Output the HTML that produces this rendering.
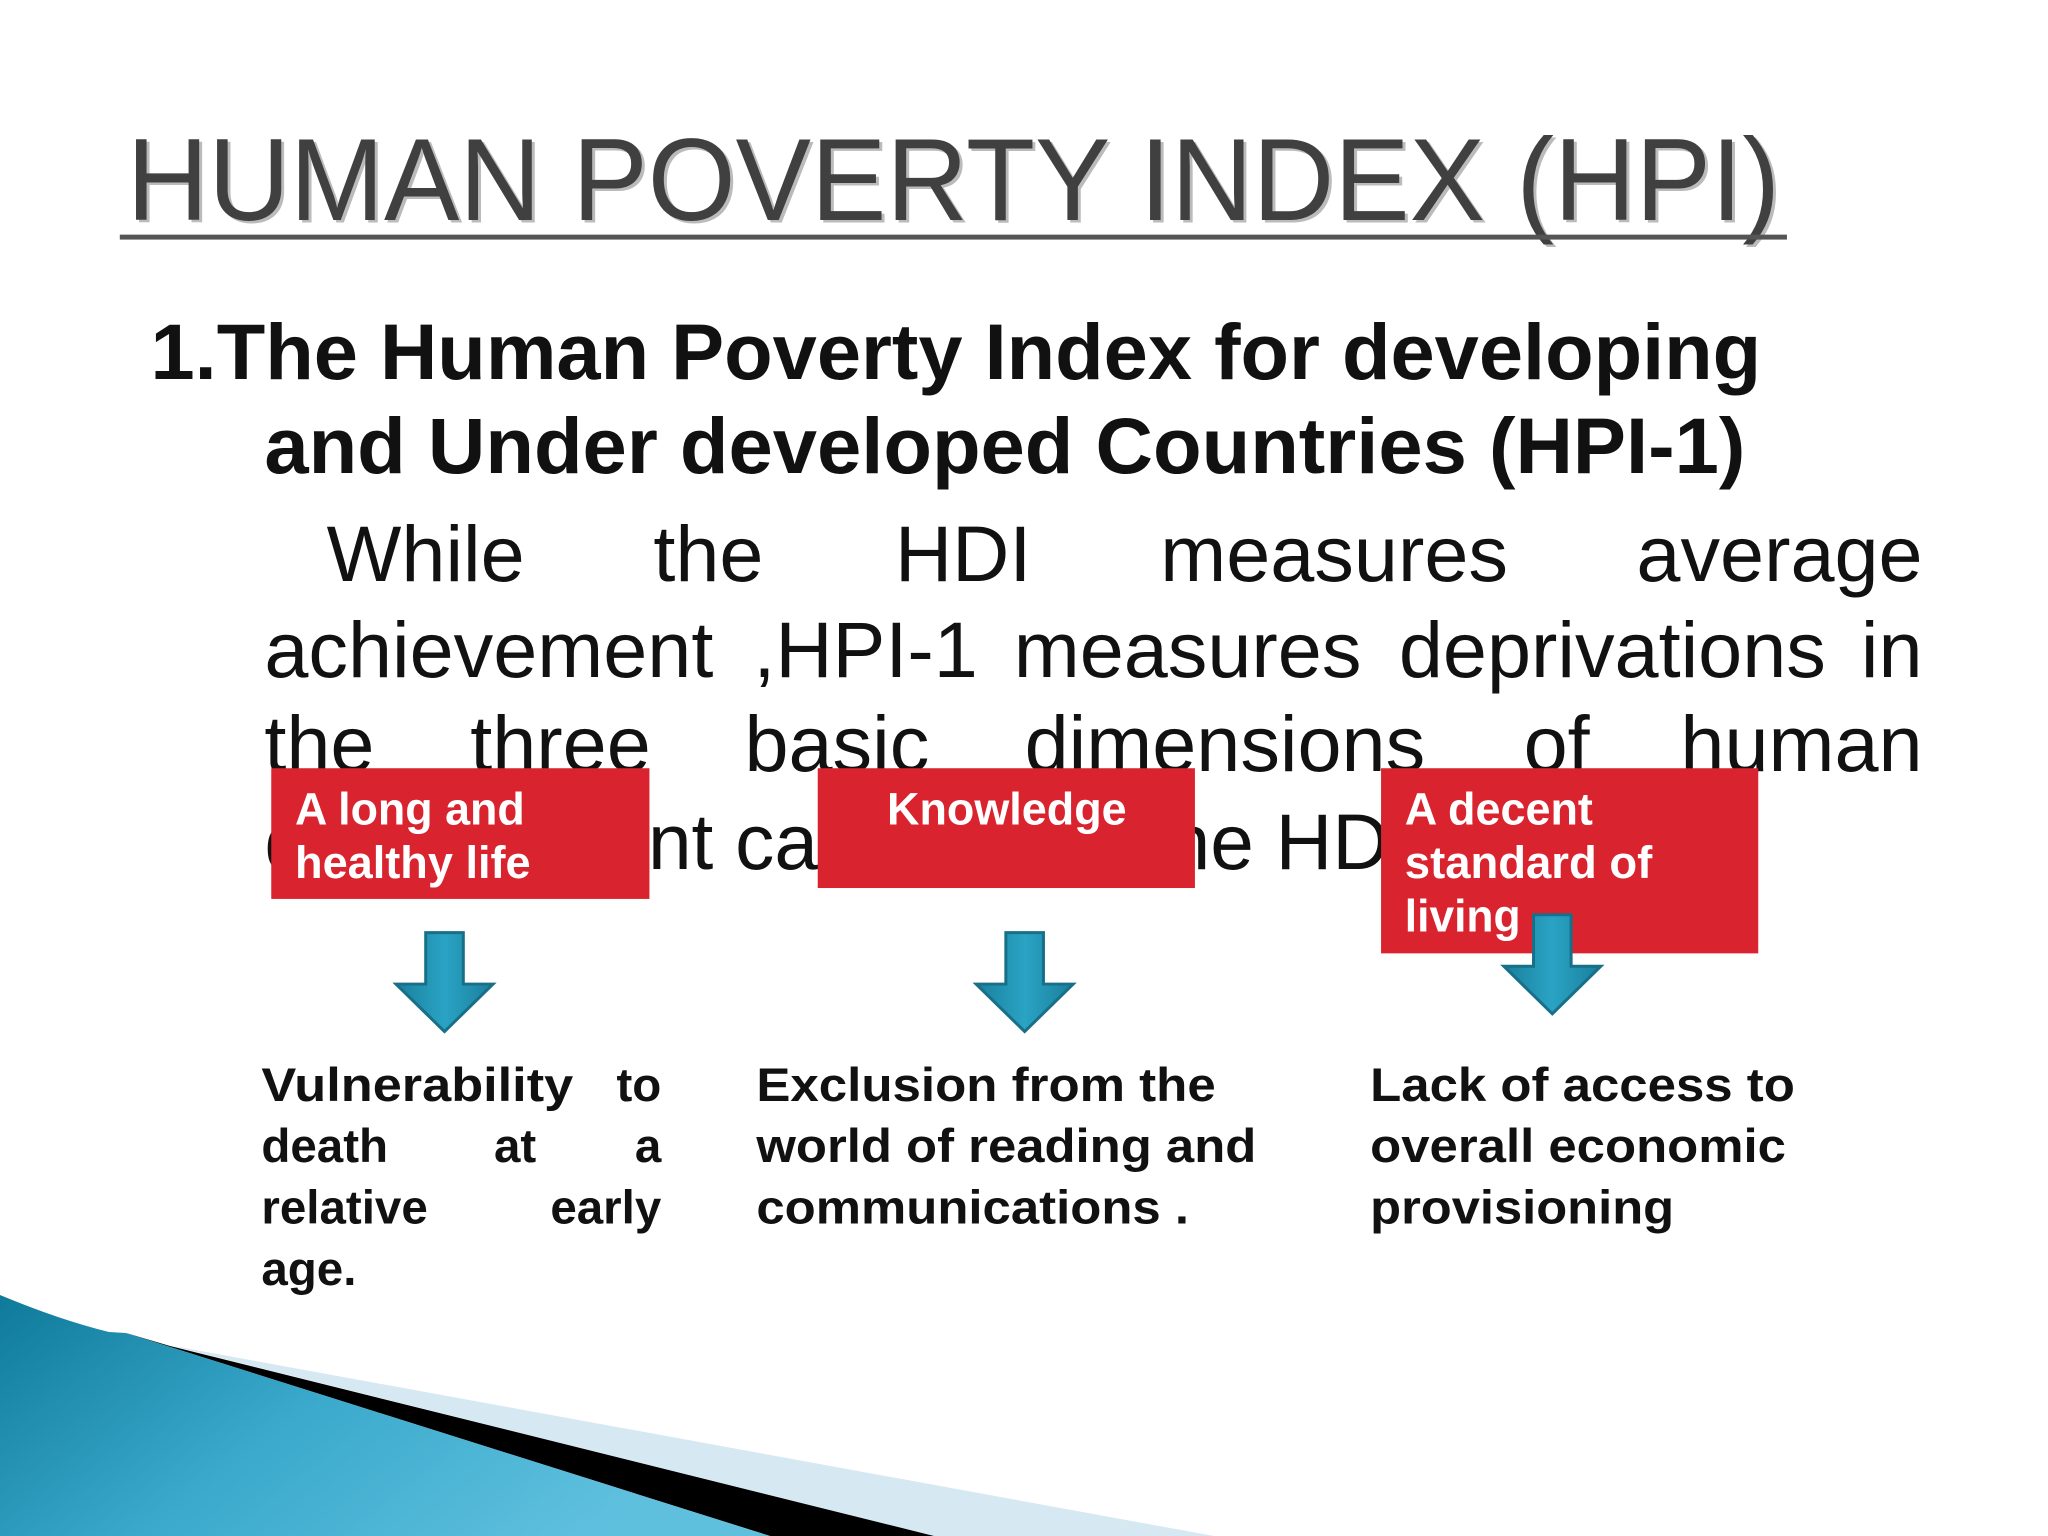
<!DOCTYPE html>
<html><head><meta charset="utf-8"><style>
html,body{margin:0;padding:0;background:#fff;}
svg{display:block;}
text{font-family:"Liberation Sans",Arial,sans-serif;}
</style></head><body>
<svg width="2048" height="1536" viewBox="0 0 2048 1536" xmlns="http://www.w3.org/2000/svg">
<defs>
<linearGradient id="teal" x1="0" y1="0" x2="1" y2="0.4">
<stop offset="0" stop-color="#0f7a9a"/><stop offset="0.5" stop-color="#3aa9cc"/><stop offset="1" stop-color="#5fc0de"/>
</linearGradient>
<linearGradient id="arrowg" x1="0" y1="0" x2="1" y2="0">
<stop offset="0" stop-color="#1a7f9c"/><stop offset="0.5" stop-color="#2aa3c4"/><stop offset="1" stop-color="#1a7f9c"/>
</linearGradient>
</defs>
<rect width="2048" height="1536" fill="#fff"/>

<g>
<polygon points="168,1345 1214,1536 934,1536" fill="#d6e8f2"/>
<polygon points="126,1333 170,1346 934,1536 770,1536" fill="#000"/>
<path d="M0,1295 Q60,1320 109,1332 L126,1333 L770,1536 L0,1536 Z" fill="url(#teal)"/>
</g>

<g transform="scale(0.99)">
<g>
<text x="131" y="225" font-size="118" fill="#bbb" textLength="1670" lengthAdjust="spacingAndGlyphs">HUMAN POVERTY INDEX (HPI)</text>
<text x="128" y="222" font-size="118" fill="#404040" textLength="1670" lengthAdjust="spacingAndGlyphs">HUMAN POVERTY INDEX (HPI)</text>
<rect x="121" y="237" width="1684" height="5" fill="#555"/>
</g>

<g font-weight="bold" font-size="80" fill="#111">
<text x="152" y="383" textLength="1627" lengthAdjust="spacingAndGlyphs">1.The Human Poverty Index for developing</text>
<text x="267" y="478" textLength="1496" lengthAdjust="spacingAndGlyphs">and Under developed Countries (HPI-1)</text>
</g>

<g font-size="80" fill="#111">
<text y="587"><tspan x="330">While</tspan><tspan x="660">the</tspan><tspan x="904">HDI</tspan><tspan x="1172">measures</tspan></text>
<text x="1942" y="587" text-anchor="end">average</text>
<text y="684"><tspan x="267">achievement</tspan><tspan x="761">,HPI-1</tspan><tspan x="1024">measures</tspan><tspan x="1413">deprivations</tspan></text>
<text x="1942" y="684" text-anchor="end">in</text>
<text y="779"><tspan x="267">the</tspan><tspan x="475">three</tspan><tspan x="752">basic</tspan><tspan x="1035">dimensions</tspan><tspan x="1539">of</tspan></text>
<text x="1942" y="779" text-anchor="end">human</text>
<text x="267" y="878" textLength="1180" lengthAdjust="spacingAndGlyphs">development captured in the HDI.</text>
</g>

<g>
<rect x="274" y="776" width="382" height="132" fill="#d9232e"/>
<text x="298" y="833" font-size="46" font-weight="bold" fill="#fff" textLength="232" lengthAdjust="spacingAndGlyphs">A long and</text>
<text x="298" y="887" font-size="46" font-weight="bold" fill="#fff" textLength="238" lengthAdjust="spacingAndGlyphs">healthy life</text>
</g>
<g>
<rect x="826" y="776" width="381" height="121" fill="#d9232e"/>
<text x="896" y="833" font-size="46" font-weight="bold" fill="#fff" textLength="242" lengthAdjust="spacingAndGlyphs">Knowledge</text>
</g>
<g>
<rect x="1395" y="776" width="381" height="187" fill="#d9232e"/>
<text x="1419" y="833" font-size="46" font-weight="bold" fill="#fff" textLength="190" lengthAdjust="spacingAndGlyphs">A decent</text>
<text x="1419" y="887" font-size="46" font-weight="bold" fill="#fff" textLength="250" lengthAdjust="spacingAndGlyphs">standard of</text>
<text x="1419" y="941" font-size="46" font-weight="bold" fill="#fff" textLength="117" lengthAdjust="spacingAndGlyphs">living</text>
</g>

<g>
<polygon points="430,942 468,942 468,994 498,994 449,1042 400,994 430,994" fill="url(#arrowg)" stroke="#176f88" stroke-width="3"/>
</g>
<g>
<polygon points="1016,942 1054,942 1054,994 1084,994 1035,1042 986,994 1016,994" fill="url(#arrowg)" stroke="#176f88" stroke-width="3"/>
</g>
<g>
<polygon points="1549,924 1587,924 1587,976 1617,976 1568,1024 1519,976 1549,976" fill="url(#arrowg)" stroke="#176f88" stroke-width="3"/>
</g>

<g font-size="48" font-weight="bold" fill="#111">
<text x="264" y="1112" textLength="315" lengthAdjust="spacingAndGlyphs">Vulnerability</text>
<text x="668" y="1112" text-anchor="end">to</text>
<text x="264" y="1174">death</text>
<text x="499" y="1174">at</text>
<text x="668" y="1174" text-anchor="end">a</text>
<text x="264" y="1236">relative</text>
<text x="668" y="1236" text-anchor="end">early</text>
<text x="264" y="1298">age.</text>
</g>
<g font-size="48" font-weight="bold" fill="#111">
<text x="764" y="1112" textLength="464" lengthAdjust="spacingAndGlyphs">Exclusion from the</text>
<text x="764" y="1174" textLength="505" lengthAdjust="spacingAndGlyphs">world of reading and</text>
<text x="764" y="1236" textLength="437" lengthAdjust="spacingAndGlyphs">communications .</text>
</g>
<g font-size="48" font-weight="bold" fill="#111">
<text x="1384" y="1112" textLength="429" lengthAdjust="spacingAndGlyphs">Lack of access to</text>
<text x="1384" y="1174" textLength="420" lengthAdjust="spacingAndGlyphs">overall economic</text>
<text x="1384" y="1236" textLength="307" lengthAdjust="spacingAndGlyphs">provisioning</text>
</g>
</g>
</svg>
</body></html>
